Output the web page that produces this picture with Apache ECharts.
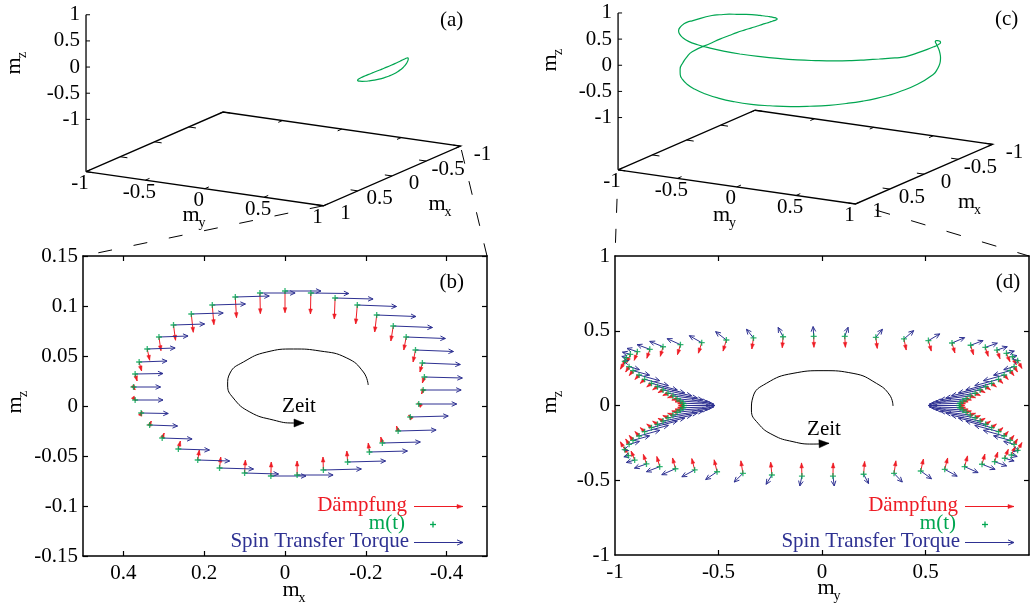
<!DOCTYPE html>
<html><head><meta charset="utf-8">
<script src="https://cdn.jsdelivr.net/npm/echarts@6.0.0/dist/echarts.min.js"></script>
<style>html,body{margin:0;padding:0;background:#fff}#c{width:1030px;height:611px}</style>
</head><body><div id="c"></div>
<script>
// ================= DATA =================
// panel (b): m(t) samples in the mx-mz plane (also drawn in 3D in panel (a))
const bMx = [0.000, 0.062, 0.123, 0.180, 0.232, 0.276, 0.312, 0.341, 0.361, 0.371, 0.375, 0.371, 0.356, 0.335, 0.304, 0.264, 0.216, 0.162, 0.100, 0.035, -0.030, -0.095, -0.155, -0.209, -0.241, -0.280, -0.310, -0.331, -0.342, -0.345, -0.340, -0.323, -0.300, -0.268, -0.227, -0.179, -0.124, -0.064];
const bMz = [0.115, 0.113, 0.109, 0.101, 0.092, 0.081, 0.069, 0.057, 0.044, 0.032, 0.019, 0.006, -0.007, -0.019, -0.032, -0.043, -0.054, -0.062, -0.067, -0.070, -0.069, -0.064, -0.056, -0.046, -0.037, -0.025, -0.011, 0.002, 0.016, 0.029, 0.043, 0.056, 0.069, 0.080, 0.091, 0.101, 0.108, 0.113];
// damping vectors (b)
const bDampX = [0, -0.001, -0.003, -0.004, -0.005, -0.005, -0.005, -0.006, -0.006, -0.005, -0.004, -0.002, -0.002, -0.004, -0.005, -0.005, -0.004, -0.003, -0.002, -0.001, 0, 0.001, 0.002, 0.003, 0.004, 0.004, 0.004, 0.003, 0.004, 0.005, 0.006, 0.006, 0.006, 0.006, 0.005, 0.004, 0.002, 0.001];
const bDampZ = [-0.0217, -0.0207, -0.0207, -0.0197, -0.0183, -0.0153, -0.0137, -0.0113, -0.0090, -0.0070, -0.0030, -0.0010, 0.0020, 0.0040, 0.0050, 0.0080, 0.0100, 0.0110, 0.0130, 0.0140, 0.0140, 0.0130, 0.0110, 0.0090, 0.0060, 0.0050, 0.0020, 0.0010, -0.0040, -0.0060, -0.0090, -0.0120, -0.0130, -0.0150, -0.0170, -0.0190, -0.0210, -0.0210];
// spin transfer torque vectors (b)
const bSttX = [-0.089, -0.087, -0.084, -0.082, -0.079, -0.077, -0.072, -0.069, -0.069, -0.069, -0.067, -0.069, -0.067, -0.069, -0.074, -0.077, -0.079, -0.084, -0.084, -0.087, -0.089, -0.094, -0.094, -0.094, -0.094, -0.094, -0.094, -0.094, -0.094, -0.094, -0.094, -0.094, -0.097, -0.097, -0.097, -0.097, -0.094, -0.094];
const bSttZ = [0, 0, 0.001, 0.001, 0.001, 0.001, 0.001, 0.001, 0.001, 0.0005, 0, 0, -0.0005, -0.001, -0.001, -0.001, -0.001, -0.001, -0.001, 0, 0, 0.001, 0.001, 0.001, 0.001, 0.001, 0.001, 0, 0, -0.001, -0.0015, -0.0015, -0.0015, -0.0015, -0.0015, -0.0015, -0.001, -0.0005];

// panel (d): m(t) samples in the my-mz plane (also drawn in 3D in panel (c)); sign of mx read from (c)
const dMy = [-0.040, -0.188, -0.331, -0.462, -0.581, -0.684, -0.768, -0.832, -0.892, -0.926, -0.945, -0.953,
 -0.932, -0.913, -0.884, -0.857, -0.824, -0.795, -0.768, -0.744, -0.720, -0.700, -0.684, -0.671, -0.667,
 -0.671, -0.684, -0.700, -0.720, -0.744, -0.768, -0.795, -0.824, -0.857, -0.884, -0.913, -0.932, -0.953,
 -0.935, -0.905, -0.848, -0.784, -0.708, -0.615, -0.507, -0.382, -0.242, -0.097, 0.053, 0.201, 0.348, 0.477, 0.593, 0.689, 0.773, 0.834, 0.883, 0.915, 0.945,
 0.928, 0.909, 0.880, 0.853, 0.820, 0.791, 0.764, 0.740, 0.716, 0.696, 0.680, 0.667, 0.663,
 0.667, 0.680, 0.696, 0.716, 0.740, 0.764, 0.791, 0.820, 0.853, 0.880, 0.909, 0.928, 0.945,
 0.920, 0.891, 0.845, 0.789, 0.718, 0.628, 0.514, 0.396, 0.260, 0.110];
const dMz = [0.463, 0.460, 0.452, 0.438, 0.420, 0.407, 0.393, 0.376, 0.360, 0.342, 0.320, 0.295,
 0.260, 0.233, 0.204, 0.175, 0.148, 0.126, 0.104, 0.082, 0.064, 0.045, 0.030, 0.015, 0.000,
 -0.015, -0.030, -0.045, -0.064, -0.082, -0.104, -0.126, -0.148, -0.175, -0.204, -0.233, -0.260, -0.295,
 -0.335, -0.365, -0.391, -0.409, -0.423, -0.431, -0.443, -0.454, -0.465, -0.472, -0.472, -0.460, -0.454, -0.438, -0.427, -0.409, -0.393, -0.376, -0.353, -0.331, -0.300,
 -0.260, -0.233, -0.204, -0.175, -0.148, -0.126, -0.104, -0.082, -0.064, -0.045, -0.030, -0.015, 0.000,
 0.015, 0.030, 0.045, 0.064, 0.082, 0.104, 0.126, 0.148, 0.175, 0.204, 0.233, 0.260, 0.300,
 0.326, 0.349, 0.371, 0.389, 0.403, 0.418, 0.434, 0.445, 0.456, 0.463];
const dMxSign = [1,1,1,1,1,1,1,1,1,1,1,0,
 -1,-1,-1,-1,-1,-1,-1,-1,-1,-1,-1,-1,-1,
 -1,-1,-1,-1,-1,-1,-1,-1,-1,-1,-1,-1,0,
 1,1,1,1,1,1,1,1,1,1,1,1,1,1,1,1,1,1,1,1,0,
 -1,-1,-1,-1,-1,-1,-1,-1,-1,-1,-1,-1,-1,
 -1,-1,-1,-1,-1,-1,-1,-1,-1,-1,-1,-1,0,
 1,1,1,1,1,1,1,1,1,1];
const dSttY = [-0.003, -0.024, -0.034, -0.052, -0.060, -0.064, -0.064, -0.061, -0.050, -0.038, -0.022, -0.005,
 0.050, 0.080, 0.100, 0.115, 0.125, 0.132, 0.138, 0.142, 0.145, 0.147, 0.148, 0.149, 0.150,
 0.149, 0.148, 0.147, 0.145, 0.142, 0.138, 0.132, 0.125, 0.115, 0.100, 0.080, 0.050, -0.005,
 -0.022, -0.040, -0.058, -0.064, -0.066, -0.062, -0.055, -0.042, -0.028, -0.010, 0.006, 0.024, 0.040, 0.052, 0.060, 0.065, 0.063, 0.058, 0.045, 0.028, 0.005,
 -0.050, -0.080, -0.100, -0.115, -0.125, -0.132, -0.138, -0.142, -0.145, -0.147, -0.148, -0.149, -0.150,
 -0.149, -0.148, -0.147, -0.145, -0.142, -0.138, -0.132, -0.125, -0.115, -0.100, -0.080, -0.050, 0.005,
 0.022, 0.038, 0.050, 0.058, 0.060, 0.061, 0.055, 0.047, 0.032, 0.016];
const dSttZ = [0.065, 0.062, 0.058, 0.056, 0.047, 0.040, 0.036, 0.031, 0.022, 0.015, 0.008, 0.002,
 -0.020, -0.030, -0.038, -0.042, -0.044, -0.042, -0.038, -0.032, -0.026, -0.019, -0.013, -0.006, 0.000,
 0.006, 0.013, 0.019, 0.026, 0.032, 0.038, 0.042, 0.044, 0.042, 0.038, 0.030, 0.020, -0.002,
 -0.008, -0.016, -0.028, -0.034, -0.040, -0.046, -0.052, -0.058, -0.062, -0.066, -0.066, -0.062, -0.058, -0.052, -0.046, -0.040, -0.034, -0.028, -0.018, -0.010, -0.002,
 0.020, 0.030, 0.038, 0.042, 0.044, 0.042, 0.038, 0.032, 0.026, 0.019, 0.013, 0.006, 0.000,
 -0.006, -0.013, -0.019, -0.026, -0.032, -0.038, -0.042, -0.044, -0.042, -0.038, -0.030, -0.020, 0.002,
 0.008, 0.015, 0.022, 0.028, 0.031, 0.036, 0.045, 0.056, 0.054, 0.060];
const dDampY = [0.001, -0.004, -0.008, -0.016, -0.016, -0.014, -0.013, -0.014, -0.015, -0.017, -0.019, -0.021,
 -0.0165, -0.018, -0.0195, -0.021, -0.0225, -0.023, -0.024, -0.025, -0.0255, -0.0255, -0.026, -0.026, -0.026,
 -0.026, -0.026, -0.0255, -0.0255, -0.025, -0.024, -0.023, -0.0225, -0.021, -0.0195, -0.018, -0.0165, -0.021,
 -0.019, -0.017, -0.015, -0.014, -0.014, -0.014, -0.014, -0.010, -0.006, -0.002, 0.001, 0.005, 0.009, 0.013, 0.014, 0.014, 0.014, 0.015, 0.017, 0.019, 0.021,
 0.0165, 0.018, 0.0195, 0.021, 0.0225, 0.023, 0.024, 0.025, 0.0255, 0.0255, 0.026, 0.026, 0.026,
 0.026, 0.026, 0.0255, 0.0255, 0.025, 0.024, 0.023, 0.0225, 0.021, 0.0195, 0.018, 0.0165, 0.021,
 0.019, 0.017, 0.015, 0.014, 0.014, 0.014, 0.014, 0.011, 0.007, 0.003];
const dDampZ = [-0.074, -0.074, -0.074, -0.074, -0.070, -0.067, -0.064, -0.060, -0.058, -0.056, -0.054, -0.052,
 -0.036, -0.033, -0.030, -0.027, -0.024, -0.021, -0.018, -0.015, -0.012, -0.009, -0.006, -0.003, 0.000,
 0.003, 0.006, 0.009, 0.012, 0.015, 0.018, 0.021, 0.024, 0.027, 0.030, 0.033, 0.036, 0.052,
 0.056, 0.060, 0.064, 0.068, 0.072, 0.076, 0.080, 0.084, 0.086, 0.088, 0.088, 0.086, 0.084, 0.080, 0.076, 0.072, 0.068, 0.064, 0.060, 0.056, 0.052,
 0.036, 0.033, 0.030, 0.027, 0.024, 0.021, 0.018, 0.015, 0.012, 0.009, 0.006, 0.003, 0.000,
 -0.003, -0.006, -0.009, -0.012, -0.015, -0.018, -0.021, -0.024, -0.027, -0.030, -0.033, -0.036, -0.052,
 -0.054, -0.056, -0.058, -0.060, -0.064, -0.067, -0.070, -0.074, -0.074, -0.074];

// "Zeit" arrows
const zeitBx = [-0.206, -0.194, -0.153, -0.087, -0.021, 0.045, 0.103, 0.136, 0.142, 0.128, 0.087, 0.029, -0.021, -0.047];
const zeitBz = [0.021, 0.034, 0.048, 0.055, 0.057, 0.054, 0.044, 0.033, 0.021, 0.008, -0.006, -0.014, -0.017, -0.017];
const zeitDy = [0.343, 0.327, 0.263, 0.150, 0.005, -0.140, -0.269, -0.333, -0.341, -0.309, -0.237, -0.140, -0.043, 0.034];
const zeitDz = [-0.003, 0.070, 0.148, 0.215, 0.233, 0.215, 0.148, 0.059, -0.030, -0.119, -0.197, -0.242, -0.258, -0.253];

// tick values
const bXTicks = [0.4, 0.2, 0, -0.2, -0.4];
const bYTicks = [0.15, 0.1, 0.05, 0, -0.05, -0.1, -0.15];
const dXLabels = [-1, -0.5, 0, 0.5];
const dXTicks = [-0.5, 0, 0.5];
const dYLabels = [1, 0.5, 0, -0.5, -1];
const dYTicks = [0.5, 0, -0.5];
const cubeTicks = [-1, -0.5, 0, 0.5, 1];
const legendTexts = ['Dämpfung', 'm(t)', 'Spin Transfer Torque'];

// ================= STYLE / LAYOUT =================
const FONT = '"Liberation Serif", "Times New Roman", serif';
const FS = 21;
const RED = '#ee1c25', BLUE = '#2e3192', GREEN = '#00a651';
const S = 52.3;                  // px per unit in 3D panels
const ZB = -2;                   // base plane level (gnuplot ticslevel)
function proj(mx, my, mz) { return [2.27 * my - 1.31 * mx, mz - 0.326 * my - 0.57 * mx]; }
const gridA = {left: 273.25 - 5 * S, top: 54.3 - S, width: 9 * S, height: 4.5 * S};
const gridC = {left: 805.3 - 5 * S, top: 52.5 - S, width: 9 * S, height: 4.5 * S};
const gridB = {left: 83, top: 256, width: 404, height: 300};
const gridD = {left: 615, top: 256, width: 414, height: 299};

// derived third component from |m| = 1
const aMy = bMx.map((x, i) => Math.sqrt(Math.max(0, 1 - x * x - bMz[i] * bMz[i])));
const cMx = dMy.map((y, i) => dMxSign[i] * Math.sqrt(Math.max(0, 1 - y * y - dMz[i] * dMz[i])));
const curveA = bMx.map((x, i) => proj(x, aMy[i], bMz[i])); curveA.push(curveA[0]);
const curveC = dMy.map((y, i) => proj(cMx[i], y, dMz[i])); curveC.push(curveC[0]);

// ================= HELPERS =================
function arrowEls(p0, p1, color, open, hl, hw, lw) {
  hl = hl || 5; hw = hw || 2.2; lw = lw || 1;
  const vx = p1[0] - p0[0], vy = p1[1] - p0[1];
  const len = Math.hypot(vx, vy) || 1;
  const ux = vx / len, uy = vy / len, nx = -uy, ny = ux;
  const bx = p1[0] - ux * hl, by = p1[1] - uy * hl;
  const a = [bx + nx * hw, by + ny * hw], b = [bx - nx * hw, by - ny * hw];
  const els = [{type: 'line', shape: {x1: p0[0], y1: p0[1], x2: p1[0], y2: p1[1]}, style: {stroke: color, lineWidth: lw}}];
  if (open) els.push({type: 'polyline', shape: {points: [a, p1, b]}, style: {stroke: color, fill: null, lineWidth: lw}});
  else els.push({type: 'polygon', shape: {points: [a, p1, b]}, style: {fill: color, stroke: color, lineWidth: 0.5}});
  return els;
}
function arrowRenderer(color, open) {
  return function (params, api) {
    const x = api.value(0), y = api.value(1), dx = api.value(2), dy = api.value(3);
    const p0 = api.coord([x, y]), p1 = api.coord([x + dx, y + dy]);
    return {type: 'group', children: arrowEls(p0, p1, color, open, 5, open ? 2.3 : 1.8, 1)};
  };
}
function headRenderer(params, api) {
  const p0 = api.coord([api.value(0), api.value(1)]), p1 = api.coord([api.value(2), api.value(3)]);
  const els = arrowEls(p0, p1, '#000', false, 10, 4, 1);
  return {type: 'group', children: [els[1]]};
}
function txt(s, x, y, align, size, color) {
  return {type: 'text', x: x, y: y, style: {text: s, fill: color || '#000', fontSize: size || FS, fontFamily: FONT, align: align || 'center', verticalAlign: 'middle'}};
}
function seg(p, q, w) { return {type: 'line', shape: {x1: p[0], y1: p[1], x2: q[0], y2: q[1]}, style: {stroke: '#000', lineWidth: w || 1.2}}; }
const TL = 0.06;
function cubeRender(params, api) {
  const P = (mx, my, mz) => api.coord(proj(mx, my, mz));
  const ch = [];
  const L = P(1, -1, ZB), B = P(-1, -1, ZB), R = P(-1, 1, ZB), F = P(1, 1, ZB);
  ch.push({type: 'polyline', shape: {points: [L, B, R, F, L]}, style: {stroke: '#000', fill: null, lineWidth: 1.3}});
  ch.push(seg(P(1, -1, ZB), P(1, -1, 1), 1.3));
  cubeTicks.forEach(t => {
    const lab = String(t);
    const z = P(1, -1, t);
    ch.push(seg(z, [z[0] + 4, z[1]], 1));
    ch.push(txt(lab, z[0] - 6, z[1], 'right'));
    const a = P(1, t, ZB);
    ch.push(seg(a, P(1 - TL, t, ZB), 1));
    ch.push(seg(P(-1, t, ZB), P(-1 + TL, t, ZB), 1));
    ch.push(txt(lab, a[0] - 6, a[1] + 12, 'center'));
    const b = P(t, 1, ZB);
    ch.push(seg(b, P(t, 1 - TL, ZB), 1));
    ch.push(seg(P(t, -1, ZB), P(t, -1 + TL, ZB), 1));
    ch.push(txt(lab, b[0] + 22, b[1] + 8, 'center'));
  });
  return {type: 'group', children: ch};
}
function hiddenAxis(g, min, max) { return {type: 'value', gridIndex: g, min: min, max: max, show: false}; }
function valAxis(g, pos, min, max, ticks, labels, inverse, showLabel, margin) {
  return {type: 'value', gridIndex: g, position: pos, min: min, max: max, inverse: !!inverse,
    axisLine: {show: true, onZero: false, lineStyle: {color: '#000', width: 1.5}},
    axisTick: {show: true, inside: true, length: 5, customValues: ticks, lineStyle: {color: '#000', width: 1.2}},
    axisLabel: {show: showLabel, customValues: labels, formatter: v => String(Math.round(v * 1000) / 1000),
      color: '#000', fontSize: FS, fontFamily: FONT, margin: margin},
    splitLine: {show: false}, minorTick: {show: false}};
}

const chart = echarts.init(document.getElementById('c'), null, {renderer: 'canvas', width: 1030, height: 611});
const G = Object.assign;
const PLUS = 'path://M-3,-0.65H-0.65V-3H0.65V-0.65H3V0.65H0.65V3H-0.65V0.65H-3Z';
chart.setOption({
  animation: false,
  backgroundColor: '#fff',
  textStyle: {fontFamily: FONT},
  grid: [G({outerBoundsMode: 'none', containLabel: false}, gridA), G({outerBoundsMode: 'none', containLabel: false}, gridB),
         G({outerBoundsMode: 'none', containLabel: false}, gridC), G({outerBoundsMode: 'none', containLabel: false}, gridD)],
  xAxis: [hiddenAxis(0, -5, 4),
          valAxis(1, 'bottom', -0.5, 0.5, bXTicks, bXTicks, true, true, 7),
          valAxis(1, 'top', -0.5, 0.5, bXTicks, bXTicks, true, false, 7),
          hiddenAxis(2, -5, 4),
          valAxis(3, 'bottom', -1, 1, dXTicks, dXLabels, false, true, 7),
          valAxis(3, 'top', -1, 1, dXTicks, dXLabels, false, false, 7)],
  yAxis: [hiddenAxis(0, -3.5, 1),
          valAxis(1, 'left', -0.15, 0.15, bYTicks, bYTicks, false, true, 5),
          valAxis(1, 'right', -0.15, 0.15, bYTicks, bYTicks, false, false, 5),
          hiddenAxis(2, -3.5, 1),
          valAxis(3, 'left', -1, 1, dYTicks, dYLabels, false, true, 5),
          valAxis(3, 'right', -1, 1, dYTicks, dYLabels, false, false, 5)],
  series: [
    // (a)
    {type: 'custom', xAxisIndex: 0, yAxisIndex: 0, renderItem: cubeRender, data: [[0, 0]], silent: true},
    {type: 'line', xAxisIndex: 0, yAxisIndex: 0, data: curveA, showSymbol: false, smooth: true, lineStyle: {color: GREEN, width: 1.2}, silent: true},
    // (b)
    {type: 'custom', xAxisIndex: 1, yAxisIndex: 1, renderItem: arrowRenderer(RED, false), encode: {x: 0, y: 1},
     data: bMx.map((x, i) => [x, bMz[i], bDampX[i], bDampZ[i]]), silent: true},
    {type: 'custom', xAxisIndex: 1, yAxisIndex: 1, renderItem: arrowRenderer(BLUE, true), encode: {x: 0, y: 1},
     data: bMx.map((x, i) => [x, bMz[i], bSttX[i], bSttZ[i]]), silent: true},
    {type: 'scatter', xAxisIndex: 1, yAxisIndex: 1, symbol: PLUS, symbolSize: 6,
     itemStyle: {color: GREEN}, data: bMx.map((x, i) => [x, bMz[i]]), silent: true},
    {type: 'line', xAxisIndex: 1, yAxisIndex: 1, data: zeitBx.map((x, i) => [x, zeitBz[i]]), showSymbol: false, smooth: true,
     lineStyle: {color: '#000', width: 1}, silent: true},
    {type: 'custom', xAxisIndex: 1, yAxisIndex: 1, renderItem: headRenderer, encode: {x: [0, 2], y: [1, 3]},
     data: [[zeitBx[zeitBx.length - 2], zeitBz[zeitBz.length - 2], zeitBx[zeitBx.length - 1], zeitBz[zeitBz.length - 1]]], silent: true},
    // (c)
    {type: 'custom', xAxisIndex: 3, yAxisIndex: 3, renderItem: cubeRender, data: [[0, 0]], silent: true},
    {type: 'line', xAxisIndex: 3, yAxisIndex: 3, data: curveC, showSymbol: false, smooth: true, lineStyle: {color: GREEN, width: 1.2}, silent: true},
    // (d)
    {type: 'custom', xAxisIndex: 4, yAxisIndex: 4, renderItem: arrowRenderer(RED, false), encode: {x: 0, y: 1},
     data: dMy.map((y, i) => [y, dMz[i], dDampY[i], dDampZ[i]]), silent: true},
    {type: 'custom', xAxisIndex: 4, yAxisIndex: 4, renderItem: arrowRenderer(BLUE, true), encode: {x: 0, y: 1},
     data: dMy.map((y, i) => [y, dMz[i], dSttY[i], dSttZ[i]]), silent: true},
    {type: 'scatter', xAxisIndex: 4, yAxisIndex: 4, symbol: PLUS, symbolSize: 6,
     itemStyle: {color: GREEN}, data: dMy.map((y, i) => [y, dMz[i]]), silent: true},
    {type: 'line', xAxisIndex: 4, yAxisIndex: 4, data: zeitDy.map((x, i) => [x, zeitDz[i]]), showSymbol: false, smooth: true,
     lineStyle: {color: '#000', width: 1}, silent: true},
    {type: 'custom', xAxisIndex: 4, yAxisIndex: 4, renderItem: headRenderer, encode: {x: [0, 2], y: [1, 3]},
     data: [[zeitDy[zeitDy.length - 2], zeitDz[zeitDz.length - 2], zeitDy[zeitDy.length - 1], zeitDz[zeitDz.length - 1]]], silent: true}
  ]
});

// ================= annotations =================
const px = (g, pt) => chart.convertToPixel({gridIndex: g}, pt);
function dashed(p, q, skip, dash, off) {
  const vx = q[0] - p[0], vy = q[1] - p[1], L = Math.hypot(vx, vy);
  const s = [p[0] + vx * skip / L, p[1] + vy * skip / L];
  return {type: 'line', z: 0, shape: {x1: s[0], y1: s[1], x2: q[0], y2: q[1]},
    style: {stroke: '#000', lineWidth: 1, lineDash: dash, lineDashOffset: off || 0}};
}
function mLabel(x, y, sub, rotated) {
  return {type: 'group', x: x, y: y, rotation: rotated ? Math.PI / 2 : 0, children: [
    {type: 'text', x: 0, y: 0, style: {text: 'm', fill: '#000', fontSize: 22, fontFamily: FONT, align: 'center', verticalAlign: 'middle'}},
    {type: 'text', x: 11, y: 8, style: {text: sub, fill: '#000', fontSize: 14, fontFamily: FONT, align: 'center', verticalAlign: 'middle'}}
  ]};
}
function legend(xr, rows, ax0, ax1, plusX) {
  const els = [];
  els.push(txt(legendTexts[0], xr, rows[0] - 1.5, 'right', FS, RED));
  els.push(txt(legendTexts[1], xr - 2, rows[1] - 1.5, 'right', FS, GREEN));
  els.push(txt(legendTexts[2], xr + 2, rows[2] - 1.5, 'right', FS, BLUE));
  arrowEls([ax0, rows[0]], [ax1, rows[0]], RED, false, 6, 2).forEach(e => els.push(e));
  arrowEls([ax0, rows[2]], [ax1, rows[2]], BLUE, true, 6, 2.6).forEach(e => els.push(e));
  els.push({type: 'rect', shape: {x: plusX - 3, y: rows[1] - 0.65, width: 6, height: 1.3}, style: {fill: GREEN}});
  els.push({type: 'rect', shape: {x: plusX - 0.65, y: rows[1] - 3, width: 1.3, height: 6}, style: {fill: GREEN}});
  return els;
}
const gfx = [];
gfx.push(dashed(px(0, proj(1, 1, ZB)), px(1, [0.5, 0.15]), 0, [14, 22], 0));
gfx.push(dashed(px(0, proj(-1, 1, ZB)), px(1, [-0.5, 0.15]), 4, [14, 18], 0));
gfx.push(dashed(px(2, proj(1, -1, ZB)), px(3, [-1, 1]), 29, [14, 16], 0));
gfx.push(dashed(px(2, proj(1, 1, ZB)), px(3, [1, 1]), 21, [15, 22], 0));
gfx.push(txt('(a)', 451.7, 20));
gfx.push(txt('(b)', 451.7, 282.3));
gfx.push(txt('(c)', 1006.7, 19.3));
gfx.push(txt('(d)', 1008, 282));
gfx.push(mLabel(14.6, 66, 'z', true));
gfx.push(mLabel(191, 215.6, 'y'));
gfx.push(mLabel(437, 204.6, 'x'));
gfx.push(mLabel(15, 405, 'z', true));
gfx.push(mLabel(291, 590, 'x'));
gfx.push(mLabel(550, 63, 'z', true));
gfx.push(mLabel(721.5, 215, 'y'));
gfx.push(mLabel(966.5, 202.6, 'x'));
gfx.push(mLabel(550, 405, 'z', true));
gfx.push(mLabel(826, 588.6, 'y'));
gfx.push(txt('Zeit', 299, 406.7));
gfx.push(txt('Zeit', 824, 429));
legend(407, [506.5, 524.5, 542.5], 414, 463, 433).forEach(e => gfx.push(e));
legend(958, [506.5, 524.5, 542.5], 965, 1014, 985).forEach(e => gfx.push(e));
chart.setOption({graphic: {elements: gfx}});
</script>
</body></html>
